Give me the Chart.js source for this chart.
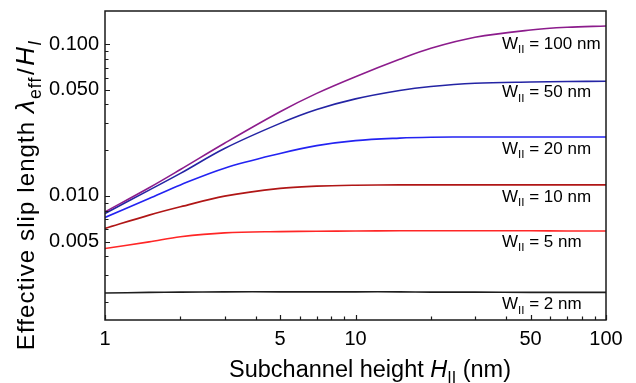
<!DOCTYPE html>
<html><head><meta charset="utf-8">
<script src="https://cdn.jsdelivr.net/npm/chart.js@4/dist/chart.umd.min.js"></script>
<style>html,body{margin:0;padding:0;background:#fff}#wrap{width:636px;height:383px;position:relative}</style>
</head><body><div id="wrap"><canvas id="c"></canvas></div>
<script>
// Subchannel height H_II (nm)
const heights = [1, 1.5, 2, 3, 5, 7, 10, 15, 20, 30, 50, 70, 100];
// Effective slip length lambda_eff / H_I for each subchannel width W_II
const w100 = [0.00784, 0.0113, 0.0149, 0.0222, 0.0358, 0.0473, 0.0609, 0.0793, 0.0937, 0.1107, 0.1237, 0.1289, 0.1314];
const w50  = [0.00765, 0.0109, 0.01405, 0.0205, 0.0300, 0.0370, 0.0435, 0.0494, 0.0525, 0.0551, 0.0562, 0.0566, 0.0568];
const w20  = [0.0072, 0.0096, 0.0118, 0.0152, 0.0190, 0.0214, 0.0231, 0.0240, 0.0243, 0.0244, 0.0244, 0.0244, 0.0244];
const w10  = [0.0061, 0.00746, 0.00846, 0.00995, 0.0112, 0.01158, 0.01174, 0.0118, 0.0118, 0.0118, 0.0118, 0.0118, 0.0118];
const w5   = [0.0045, 0.00497, 0.00537, 0.0057, 0.00581, 0.00584, 0.00587, 0.00588, 0.00588, 0.00588, 0.00588, 0.00587, 0.00587];
const w2   = [0.00229, 0.00231, 0.00232, 0.00233, 0.00233, 0.00233, 0.00233, 0.00233, 0.00232, 0.00232, 0.00231, 0.00231, 0.00231];
const seriesNames = ['100', '50', '20', '10', '5', '2'];
const seriesValues = [w100, w50, w20, w10, w5, w2];
const seriesColors = ['#8C1C8C', '#2424A4', '#2323F2', '#B01616', '#FF2626', '#1E1E1E'];
// Axis ticks
const xTickVals = [1,2,3,4,5,6,7,8,9,10,20,30,40,50,60,70,80,90,100];
const xTickLabels = [1, 5, 10, 50, 100];
const yTickVals = [0.002,0.003,0.004,0.005,0.006,0.007,0.008,0.009,0.01,0.02,0.03,0.04,0.05,0.06,0.07,0.08,0.09,0.1];
const yTickLabels = [0.005, 0.01, 0.05, 0.1];
const yMin = 0.00152, yMax = 0.165;

const FONT = "'Liberation Sans', Arial, Helvetica, sans-serif";
const near = (a, b) => Math.abs(a - b) / b < 1e-6;

function drawRich(ctx, parts, x, y, size, align, spacing) {
  const sz = p => (p.size || size) * (p.sub ? 0.68 : 1);
  const fontFor = p => (p.italic ? 'italic ' : '') + sz(p).toFixed(1) + 'px ' + FONT;
  ctx.letterSpacing = (spacing || 0) + 'px';
  let total = 0;
  parts.forEach(p => { ctx.font = fontFor(p); total += ctx.measureText(p.t).width + (p.gap || 0); });
  let cx = align === 'center' ? x - total / 2 : x;
  ctx.textBaseline = 'alphabetic';
  ctx.textAlign = 'left';
  parts.forEach(p => {
    ctx.font = fontFor(p);
    ctx.fillText(p.t, cx + (p.gap || 0) / 2, y + (p.sub ? (p.size || size) * 0.25 : 0));
    cx += ctx.measureText(p.t).width + (p.gap || 0);
  });
  ctx.letterSpacing = '0px';
}

const frame = {
  id: 'frame',
  afterDraw(chart) {
    const {ctx, chartArea: a, scales} = chart;
    ctx.save();
    ctx.strokeStyle = '#1a1a1a';
    ctx.lineWidth = 1.5;
    ctx.strokeRect(a.left, a.top, a.right - a.left, a.bottom - a.top);
    ctx.lineWidth = 1.2;
    ctx.beginPath();
    xTickVals.forEach(v => {
      const px = Math.round(scales.x.getPixelForValue(v)) + 0.5;
      const len = xTickLabels.some(l => near(l, v)) ? 5 : 3.5;
      ctx.moveTo(px, a.bottom); ctx.lineTo(px, a.bottom - len);
    });
    yTickVals.forEach(v => {
      const py = Math.round(scales.y.getPixelForValue(v)) + 0.5;
      const len = yTickLabels.some(l => near(l, v)) ? 5 : 3.5;
      ctx.moveTo(a.left, py); ctx.lineTo(a.left + len, py);
    });
    ctx.stroke();
    ctx.fillStyle = '#000';
    // Axis titles
    drawRich(ctx, [{t: 'Subchannel height '}, {t: 'H', italic: true}, {t: 'II', sub: true}, {t: ' (nm)'}], 370, 377, 23.5, 'center', 0);
    ctx.save();
    ctx.translate(34, 195);
    ctx.rotate(-Math.PI / 2);
    drawRich(ctx, [
      {t: 'Effective slip length '},
      {t: 'λ', italic: true, size: 26},
      {t: 'eff', sub: true, size: 26},
      {t: '/', gap: 3},
      {t: 'H', italic: true, size: 26},
      {t: 'I', sub: true, italic: true, size: 26}
    ], 0, 0, 24, 'center', 1.1);
    ctx.restore();
    // Curve labels
    const offsets = [17, 10, 11, 11, 10, 11];
    seriesNames.forEach((n, i) => {
      const vals = seriesValues[i];
      const py = scales.y.getPixelForValue(vals[vals.length - 1]) + offsets[i] + 6;
      drawRich(ctx, [{t: 'W'}, {t: 'II', sub: true}, {t: ' = ' + n + ' nm'}], 502, py, 17, 'left', 0);
    });
    ctx.restore();
  }
};

new Chart(document.getElementById('c'), {
  type: 'line',
  data: {
    datasets: seriesNames.map((n, i) => ({
      label: 'W_II = ' + n + ' nm',
      data: heights.map((h, j) => ({x: h, y: seriesValues[i][j]})),
      borderColor: seriesColors[i],
      borderWidth: 1.6,
      pointRadius: 0,
      fill: false,
      tension: 0.35
    }))
  },
  options: {
    responsive: true,
    maintainAspectRatio: false,
    animation: false,
    layout: {padding: {top: 11, right: 30, left: 0, bottom: 0}},
    plugins: {legend: {display: false}, tooltip: {enabled: false}},
    scales: {
      x: {
        type: 'logarithmic', min: 1, max: 100,
        grid: {display: false, drawTicks: false},
        border: {display: false},
        afterBuildTicks: s => { s.ticks = xTickVals.map(v => ({value: v})); },
        afterFit: s => { s.height = 63; s.paddingLeft = 0; s.paddingRight = 0; },
        ticks: {
          autoSkip: false, maxRotation: 0, padding: 7, color: '#000',
          font: {family: FONT, size: 20},
          callback: v => xTickLabels.some(l => near(l, v)) ? String(v) : null
        }
      },
      y: {
        type: 'logarithmic', min: yMin, max: yMax,
        grid: {display: false, drawTicks: false},
        border: {display: false},
        afterBuildTicks: s => { s.ticks = [yMin, ...yTickVals, yMax].map(v => ({value: v})); },
        afterFit: s => { s.width = 105; s.paddingTop = 0; s.paddingBottom = 0; },
        ticks: {
          autoSkip: false, padding: 6, color: '#000',
          font: {family: FONT, size: 20},
          callback: v => yTickLabels.some(l => near(l, v)) ? v.toFixed(3) : null
        }
      }
    }
  },
  plugins: [frame]
});
</script>
</body></html>
